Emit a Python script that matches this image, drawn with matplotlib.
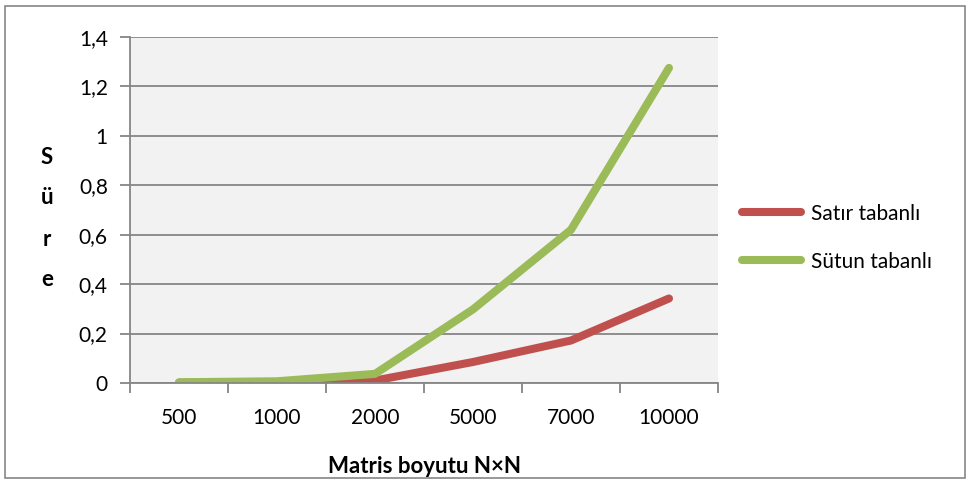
import matplotlib.pyplot as plt
from matplotlib.patches import Rectangle

plt.rcParams['font.family'] = ['Lato', 'DejaVu Sans']

# Data
sizes = ['500', '1000', '2000', '5000', '7000', '10000']
satir = [0.001, 0.002, 0.01, 0.085, 0.172, 0.342]
sutun = [0.003, 0.007, 0.037, 0.298, 0.62, 1.275]
yticks = [0, 0.2, 0.4, 0.6, 0.8, 1.0, 1.2, 1.4]
ytick_labels = ['0', '0,2', '0,4', '0,6', '0,8', '1', '1,2', '1,4']

red = '#C0504D'
green = '#9BBB59'
gray = '#868686'

fig = plt.figure(figsize=(9.69, 4.8), dpi=100)
ax = fig.add_axes([130 / 969, 97 / 480, 588 / 969, 346 / 480])
ax.set_facecolor('#F2F2F2')

x = list(range(len(sizes)))
ax.plot(x, satir, color=red, lw=5.8, solid_capstyle='round',
        solid_joinstyle='round', label='Satır tabanlı')
ax.plot(x, sutun, color=green, lw=5.8, solid_capstyle='round',
        solid_joinstyle='round', label='Sütun tabanlı')

ax.set_xlim(-0.5, len(sizes) - 0.5)
ax.set_ylim(0, 1.4)
ax.set_yticks(yticks)
ax.set_yticklabels(ytick_labels, fontsize=15)
ax.yaxis.grid(True, color=gray, lw=1.3)
ax.set_axisbelow(True)

# category ticks between labels, Excel style
ax.set_xticks([i - 0.5 for i in range(len(sizes) + 1)])
ax.set_xticklabels([])
ax.set_xticks(x, minor=True)
ax.set_xticklabels(sizes, minor=True, fontsize=15)
ax.tick_params(axis='x', which='minor', length=0, pad=18)
ax.tick_params(axis='x', which='major', length=7, color=gray, width=1.3)
ax.tick_params(axis='y', length=7, color=gray, width=1.3, pad=9)

for s in ['top', 'right']:
    ax.spines[s].set_visible(False)
for s in ['left', 'bottom']:
    ax.spines[s].set_color(gray)
    ax.spines[s].set_linewidth(1.3)

ax.set_xlabel('Matris boyutu N×N', fontsize=16, fontweight='bold', labelpad=20)

# vertical stacked y-label
for i, ch in enumerate('Süre'):
    fig.text(47 / 969, 1 - (157 + i * 41) / 480, ch, fontsize=16,
             fontweight='bold', ha='center', va='center')

ax.legend(loc='center left', frameon=False, fontsize=15, handlelength=2.8,
          labelspacing=1.35, handletextpad=0.5, borderaxespad=0)
ax.get_legend().set_bbox_to_anchor((1.027, 0.42), transform=ax.transAxes)

fig.patches.append(Rectangle((5 / 969, 2 / 480), 960 / 969, 472 / 480,
                             transform=fig.transFigure, fill=False,
                             edgecolor=gray, lw=1.2))

fig.savefig('out.png', dpi=100)
